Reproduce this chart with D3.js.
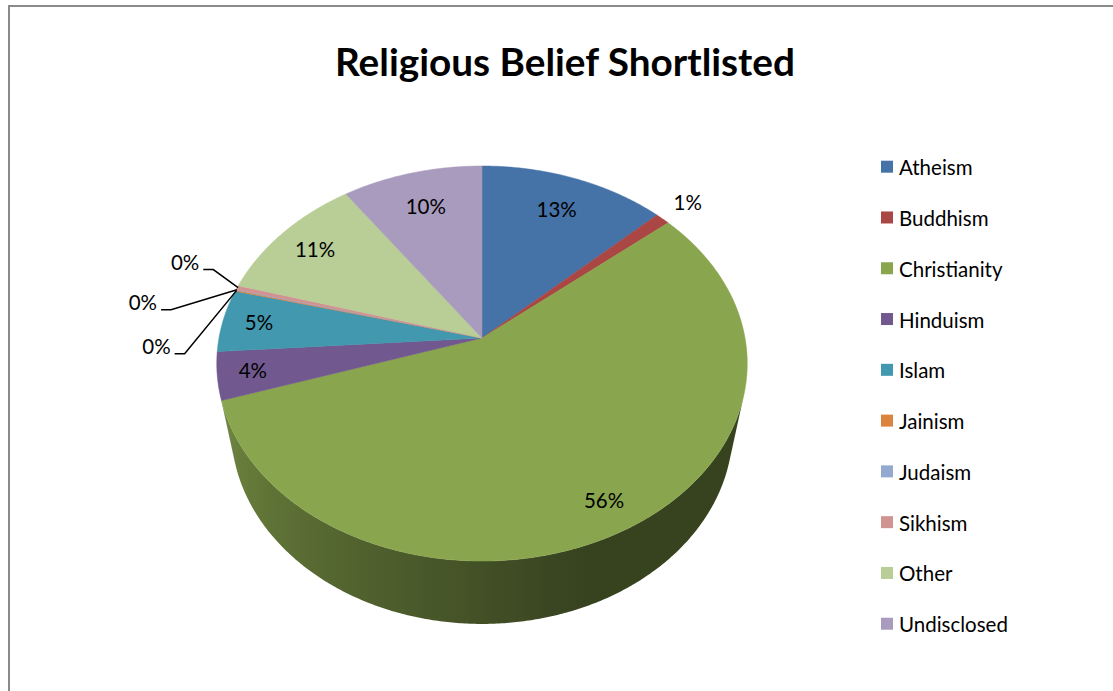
<!DOCTYPE html>
<html>
<head>
<meta charset="utf-8">
<script src="https://cdn.jsdelivr.net/npm/d3@7"></script>
<style>
    body { margin: 0; background: #fff; }
    text { font-family: Lato, "Open Sans", sans-serif; }
</style>
</head>
<body>
<svg id="chart" width="1113" height="691"></svg>
<script>
    // Data
    var categories = ["Atheism", "Buddhism", "Christianity", "Hinduism", "Islam",
                      "Jainism", "Judaism", "Sikhism", "Other", "Undisclosed"];
    var values = [12.9, 1.0, 56.1, 3.9, 5.1, 0.1, 0.05, 0.35, 10.8, 9.7];
    var colors = ["#4572A7", "#AA4643", "#89A54E", "#71588F", "#4198AF",
                  "#DB843D", "#93A9CF", "#D19392", "#B9CD96", "#A99BBD"];
    var chartTitle = "Religious Belief Shortlisted";

    var svg = d3.select("#chart");
    var defs = svg.append("defs");
    var total = d3.sum(values);
    var pct = d3.format(".0%");

    // Frame
    svg.append("rect")
        .attr("x", 9).attr("y", 6)
        .attr("width", 1300).attr("height", 1000)
        .attr("fill", "none")
        .attr("stroke", "#8a8a8a")
        .attr("stroke-width", 2);

    svg.append("text")
        .attr("x", 565).attr("y", 76)
        .attr("text-anchor", "middle")
        .attr("font-size", 38)
        .attr("font-weight", "bold")
        .attr("textLength", 460)
        .attr("lengthAdjust", "spacingAndGlyphs")
        .text(chartTitle);

    // Perspective camera for the tilted pie
    var cam = { cx: 482, cy: 338, f: 1373, D: 5.22, tilt: 47.6 * Math.PI / 180, h: 0.4 };
    var sinT = Math.sin(cam.tilt), cosT = Math.cos(cam.tilt);

    var project = function(theta, r, y) {
        var x = r * Math.sin(theta), z = r * Math.cos(theta);
        var yc = z * sinT + y * cosT;
        var depth = cam.D + z * cosT - y * sinT;
        return [cam.cx + cam.f * x / depth, cam.cy - cam.f * yc / depth];
    };

    var step = Math.PI / 360;
    var arcPoints = function(a0, a1, y) {
        var n = Math.max(2, Math.ceil(Math.abs(a1 - a0) / step));
        return d3.range(n + 1).map(function(i) { return project(a0 + (a1 - a0) * i / n, 1, y); });
    };

    var line = d3.line();
    var pie = d3.pie().sort(null).value(function(d) { return d.value; });
    var arcs = pie(categories.map(function(c, i) {
        return { name: c, value: values[i], color: colors[i] };
    }));

    // Sides (only the front facing part), shaded left light -> right dark
    var thetaS = Math.acos(-1 / (cam.D * cosT));
    var shade = d3.scaleLinear().domain([160, 253]).range([0.4, 0.8]).clamp(true);
    var xLeft = project(2 * Math.PI - thetaS, 1, -cam.h / 2)[0];
    var xRight = project(thetaS, 1, -cam.h / 2)[0];
    var gSide = svg.append("g");
    arcs.forEach(function(a, idx) {
        var s0 = Math.max(a.startAngle, thetaS);
        var s1 = Math.min(a.endAngle, 2 * Math.PI - thetaS);
        if (s1 <= s0) return;
        var base = d3.rgb(a.data.color);
        var grad = defs.append("linearGradient")
            .attr("id", "side" + idx)
            .attr("gradientUnits", "userSpaceOnUse")
            .attr("x1", xLeft).attr("y1", 0)
            .attr("x2", xRight).attr("y2", 0);
        d3.range(2 * Math.PI - thetaS, thetaS, -Math.PI / 90).concat([thetaS]).forEach(function(t) {
            var k = shade(t * 180 / Math.PI);
            var x = project(t, 1, -cam.h / 2)[0];
            grad.append("stop")
                .attr("offset", (x - xLeft) / (xRight - xLeft))
                .attr("stop-color", d3.rgb(base.r * k, base.g * k, base.b * k).toString());
        });
        var pts = arcPoints(s0, s1, 0).concat(arcPoints(s1, s0, -cam.h));
        gSide.append("path")
            .attr("d", line(pts) + "Z")
            .attr("fill", "url(#side" + idx + ")");
    });

    // Top faces
    svg.append("g").selectAll("path")
        .data(arcs)
        .enter().append("path")
        .attr("d", function(a) {
            return line([project(0, 0, 0)].concat(arcPoints(a.startAngle, a.endAngle, 0))) + "Z";
        })
        .attr("fill", function(a) { return a.data.color; })
        .attr("stroke", function(a) { return a.data.color; })
        .attr("stroke-width", 0.5);

    // Data labels
    var fs = 20.5;
    var gLab = svg.append("g").attr("font-size", fs).attr("fill", "#000");
    var centre = project(0, 0, 0);
    var callouts = [];
    arcs.forEach(function(a) {
        var share = a.data.value / total;
        var mid = (a.startAngle + a.endAngle) / 2;
        var e = project(mid, 1, 0);
        var dx = centre[0] - e[0], dy = centre[1] - e[1];
        var len = Math.sqrt(dx * dx + dy * dy);
        var off;
        if (share >= 0.03) off = 36;
        else if (share >= 0.005) off = -30;
        else { callouts.push({ a: a, e: e }); return; }
        gLab.append("text")
            .attr("x", e[0] + dx / len * off)
            .attr("y", e[1] + dy / len * off + fs * 0.36)
            .attr("text-anchor", "middle")
            .text(pct(share));
    });

    // Stacked callouts for the tiny slices, top one = last slice
    var calloutOffsets = [[-52, -25], [-93, 13], [-79, 56]];
    callouts.reverse().forEach(function(c, i) {
        var lx = c.e[0] + calloutOffsets[i][0], ly = c.e[1] + calloutOffsets[i][1];
        var t = gLab.append("text")
            .attr("x", lx).attr("y", ly + fs * 0.36)
            .attr("text-anchor", "middle")
            .text(pct(c.a.data.value / total));
        var w = t.node().getComputedTextLength();
        var x0 = lx + w / 2 + 4, yl = ly + 7;
        svg.append("path")
            .attr("d", line([[x0, yl], [x0 + 10, yl], [c.e[0] + 1, c.e[1]]]))
            .attr("fill", "none")
            .attr("stroke", "#000")
            .attr("stroke-width", 1.5);
    });

    // Legend
    var legend = svg.append("g").selectAll("g")
        .data(categories)
        .enter().append("g")
        .attr("transform", function(d, i) { return "translate(881," + (166.7 + 50.78 * i) + ")"; });
    legend.append("rect")
        .attr("x", 0).attr("y", -6)
        .attr("width", 12).attr("height", 12)
        .attr("fill", function(d, i) { return colors[i]; });
    legend.append("text")
        .attr("x", 18).attr("y", 8.5)
        .attr("font-size", fs)
        .text(function(d) { return d; });
</script>
</body>
</html>
